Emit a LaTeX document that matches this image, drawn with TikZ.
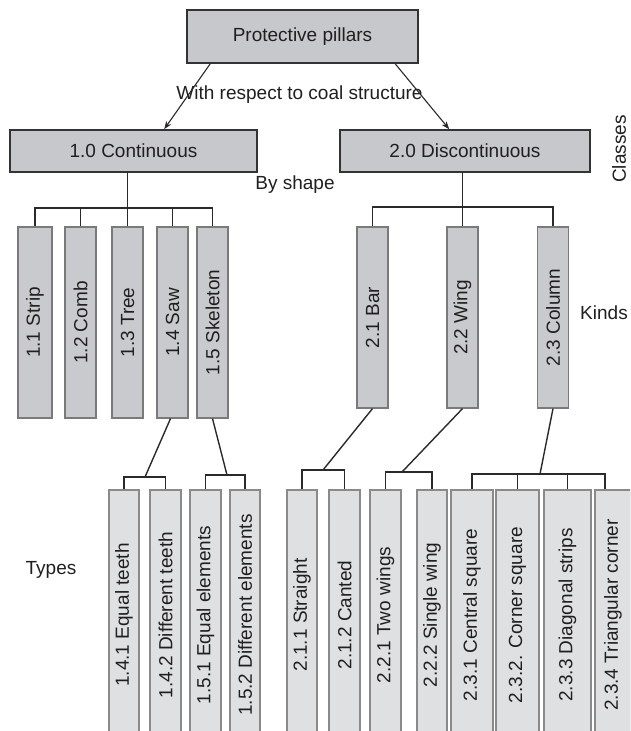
\documentclass[tikz,border=0pt]{standalone}
\usepackage{fontspec}
\setmainfont{Liberation Sans}
\usetikzlibrary{arrows.meta,calc}
\definecolor{fillA}{HTML}{C7C8CB}
\definecolor{fillB}{HTML}{C9CACD}
\definecolor{fillC}{HTML}{DFE0E2}
\definecolor{lineA}{HTML}{333333}
\definecolor{lineB}{HTML}{7A7A7A}
\definecolor{lineC}{HTML}{8A8A8A}
\definecolor{conn}{HTML}{2A2A2A}
\begin{document}
\begin{tikzpicture}[x=1pt,y=-1pt,
  txt/.style={font=\fontsize{19}{21}\selectfont, text=black!88},
  topbox/.style={draw=lineA, line width=1.6pt, fill=fillA, inner sep=0pt, txt},
  kindbox/.style={draw=lineB, line width=1.2pt, fill=fillB, inner sep=0pt, txt},
  typebox/.style={draw=lineC, line width=1.1pt, fill=fillC, inner sep=0pt, txt},
  lbl/.style={inner sep=0pt, txt},
  link/.style={draw=conn, line width=1.4pt},
  arr/.style={link, line width=1.1pt, -{Stealth[length=8pt,width=6pt]}}]
\useasboundingbox (0,0) rectangle (630,731);
\clip (0,0) rectangle (630,731);
% level 0 and classes
\node[topbox, minimum width=231pt, minimum height=53pt] (top) at (302.5,36.5) {Protective pillars};
\node[topbox, minimum width=247pt, minimum height=42pt] (c10) at (133.5,151) {1.0 Continuous};
\node[topbox, minimum width=250pt, minimum height=42pt] (c20) at (465,151) {2.0 Discontinuous};
% kinds
\node[kindbox, minimum width=34pt, minimum height=191pt] (s11) at (35,322.5) {\rotatebox{90}{1.1 Strip}};
\node[kindbox, minimum width=31pt, minimum height=191pt] (s12) at (80.5,322.5) {\rotatebox{90}{1.2 Comb}};
\node[kindbox, minimum width=31pt, minimum height=191pt] (s13) at (127.5,322.5) {\rotatebox{90}{1.3 Tree}};
\node[kindbox, minimum width=31pt, minimum height=191pt] (s14) at (172.5,322.5) {\rotatebox{90}{1.4 Saw}};
\node[kindbox, minimum width=31pt, minimum height=191pt] (s15) at (212.5,322.5) {\rotatebox{90}{1.5 Skeleton}};
\node[kindbox, minimum width=31pt, minimum height=181pt] (s21) at (372.5,317.5) {\rotatebox{90}{2.1 Bar}};
\node[kindbox, minimum width=31pt, minimum height=181pt] (s22) at (462.5,317.5) {\rotatebox{90}{2.2 Wing}};
\node[kindbox, minimum width=31pt, minimum height=181pt] (s23) at (553,317.5) {\rotatebox{90}{2.3 Column}};
% types
\node[typebox, minimum width=30pt, minimum height=250pt] (t141) at (124,615) {\rotatebox{90}{1.4.1 Equal teeth}};
\node[typebox, minimum width=31pt, minimum height=250pt] (t142) at (165.5,615) {\rotatebox{90}{1.4.2 Different teeth}};
\node[typebox, minimum width=31pt, minimum height=250pt] (t151) at (205.5,615) {\rotatebox{90}{1.5.1 Equal elements}};
\node[typebox, minimum width=30pt, minimum height=250pt] (t152) at (245,615) {\rotatebox{90}{1.5.2 Different elements}};
\node[typebox, minimum width=30pt, minimum height=250pt] (t211) at (302,615) {\rotatebox{90}{2.1.1 Straight}};
\node[typebox, minimum width=31pt, minimum height=250pt] (t212) at (344.5,615) {\rotatebox{90}{2.1.2 Canted}};
\node[typebox, minimum width=31pt, minimum height=250pt] (t221) at (385.5,615) {\rotatebox{90}{2.2.1 Two wings}};
\node[typebox, minimum width=30pt, minimum height=250pt] (t222) at (432,615) {\rotatebox{90}{2.2.2 Single wing}};
\node[typebox, minimum width=42pt, minimum height=250pt] (t231) at (472,615) {\rotatebox{90}{2.3.1 Central square}};
\node[typebox, minimum width=43pt, minimum height=250pt] (t232) at (517.5,615) {\rotatebox{90}{2.3.2. Corner square}};
\node[typebox, minimum width=47pt, minimum height=250pt] (t233) at (567.5,615) {\rotatebox{90}{2.3.3 Diagonal strips}};
\node[typebox, minimum width=36pt, minimum height=250pt] (t234) at (613,615) {\rotatebox{90}{2.3.4 Triangular corner}};
% side labels
\node[lbl] (lwrt) at (299.5,95) {With respect to coal structure};
\node[lbl] (lshape) at (295,185) {By shape};
\node[lbl, rotate=90] (lclasses) at (619,149) {Classes};
\node[lbl] (lkinds) at (604,313) {Kinds};
\node[lbl] (ltypes) at (51,570) {Types};
% arrows from the root
\draw[arr] ($(top.south west)+(24,0)$) -- ($(c10.north west)+(155,0)$);
\draw[arr] ($(top.south west)+(209,0)$) -- ($(c20.north west)+(110,0)$);
% continuous -> kinds
\coordinate (b1) at (0,208);
\draw[link] (c10.south -| s13.north) -- (s13.north);
\draw[link] (s11.north) -- (s11.north |- b1) -- (s15.north |- b1) -- (s15.north);
\draw[link] (s12.north) -- (s12.north |- b1);
\draw[link] (s14.north) -- (s14.north |- b1);
% discontinuous -> kinds
\coordinate (b2) at (0,207);
\draw[link] (c20.south -| s22.north) -- (s22.north);
\draw[link] (s21.north) -- (s21.north |- b2) -- (s23.north |- b2) -- (s23.north);
% kinds -> types
\coordinate (j14) at (145,477);
\coordinate (j15) at (227,475);
\coordinate (j21) at (323,470);
\coordinate (j22) at (402,472);
\coordinate (j23) at (540,474);
\coordinate (d234) at ($(t234.north)+(-8,0)$);
\draw[link] ($(s14.south)+(-2,0)$) -- (j14);
\draw[link] (t141.north) |- (j14) -| (t142.north);
\draw[link] (s15.south) -- (j15);
\draw[link] (t151.north) |- (j15) -| (t152.north);
\draw[link] (s21.south) -- (j21);
\draw[link] (t211.north) |- (j21) -| (t212.north);
\draw[link] (s22.south) -- (j22);
\draw[link] (t221.north) |- (j22) -| (t222.north);
\draw[link] (s23.south) -- (j23);
\draw[link] (t231.north) |- (j23) -| (d234);
\draw[link] (t232.north) -- (t232.north |- j23);
\draw[link] (t233.north) -- (t233.north |- j23);
\end{tikzpicture}
\end{document}
